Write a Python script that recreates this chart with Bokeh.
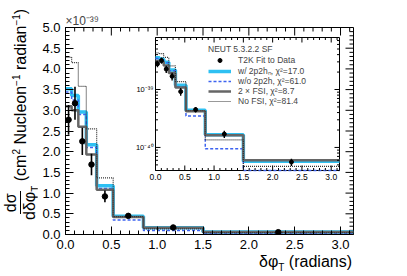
import numpy as np
from bokeh.plotting import figure
from bokeh.layouts import row, column
from bokeh.models import (Range1d, LinearScale, LogScale, FixedTicker, Div, Title,
                          PrintfTickFormatter, Legend, LegendItem)
from bokeh.embed import file_html
from bokeh.resources import INLINE
from bokeh.core.properties import value

PI = np.pi
# ---------------- data (cross sections in units of 1e-39 cm^2 / nucleon / radian)
bin_edges = [0.0, 0.067, 0.14, 0.227, 0.34, 0.52, 0.85, 1.5, PI]
data_y = [2.77, 3.17, 2.25, 1.69, 0.92, 0.45, 0.17, 0.056]
data_err = [0.36, 0.40, 0.33, 0.26, 0.14, 0.05, 0.025, 0.008]
w2p2h = [3.52, 3.36, 2.96, 2.17, 1.18, 0.44, 0.165, 0.058]
wo2p2h = [3.44, 3.25, 2.90, 2.10, 1.11, 0.35, 0.095, 0.030]
fsi2 = [3.10, 3.00, 2.60, 1.93, 1.08, 0.42, 0.162, 0.060]
nofsi = [4.28, 4.15, 3.58, 2.55, 1.37, 0.43, 0.135, 0.047]
unit = 1e-39

main_yticks = [0.0, 0.5, 1.0, 1.5, 2.0, 2.5, 3.0, 3.5, 4.0, 4.5, 5.0]
main_yminor = list(np.round(np.arange(0, 5.01, 0.1), 2))
main_xticks = [0.0, 0.5, 1.0, 1.5, 2.0, 2.5, 3.0]
main_xminor = list(np.round(np.arange(0, 3.15, 0.1), 2))
inset_xticks = [0.0, 0.5, 1.0, 1.5, 2.0, 2.5, 3.0]
inset_ydecades = [1e-41, 1e-40, 1e-39]
inset_ylabels = {1e-39: "10\u207b\u00b3\u2079", 1e-40: "10\u207b\u2074\u2070"}
inset_yrange = (4.0e-41, 7.9e-39)

legend_title = "NEUT 5.3.2.2 SF"
legend_labels = ["T2K Fit to Data", "w/ 2p2h\u2099, \u03c7\u00b2=17.0",
                 "w/o 2p2h, \u03c7\u00b2=61.0", "2 \u00d7 FSI, \u03c7\u00b2=8.7",
                 "No FSI, \u03c7\u00b2=81.4"]

# ---------------- styles
FONT = "Liberation Sans"
C_CYAN = "#2ec0f2"
C_BLUE = "#3d63f0"
C_GRAY = "#666666"
C_DOT = "#333333"

FRAME_W, FRAME_H = 288, 207
YDIV_W = 37
BL, BT, BR, BB = 28, 27, 40, 20
FIG_W = BL + FRAME_W + BR
FIG_H = BT + FRAME_H + BB

p = figure(width=FIG_W, height=FIG_H,
           x_range=Range1d(0, PI), y_range=Range1d(0, 5.0),
           output_backend="svg", toolbar_location=None,
           min_border_left=BL, min_border_right=BR, min_border_top=BT, min_border_bottom=BB)
p.outline_line_color = "black"
p.outline_line_width = 1
p.xgrid.visible = False
p.ygrid.visible = False
p.background_fill_color = "white"
p.border_fill_color = "white"

for ax, ticks, minor in ((p.xaxis[0], main_xticks, main_xminor),
                         (p.yaxis[0], main_yticks, main_yminor)):
    ax.ticker = FixedTicker(ticks=ticks, minor_ticks=minor)
    ax.major_tick_in = 8
    ax.major_tick_out = 0
    ax.minor_tick_in = 4
    ax.minor_tick_out = 0
    ax.axis_line_color = "black"
    ax.major_tick_line_color = "black"
    ax.minor_tick_line_color = "black"
    ax.formatter = PrintfTickFormatter(format="%.1f")
    ax.major_label_text_font = FONT
    ax.major_label_text_font_size = "13px"
    ax.major_label_text_color = "black"
    ax.major_label_standoff = 5

p.add_layout(Title(text="\u00d710\u207b\u00b3\u2079", align="left", text_font=FONT,
                   text_font_size="12px", text_font_style="normal", standoff=0), "above")

# mirror ticks on the top and right edges of the frame
xpu = PI / FRAME_W   # data units per pixel
ypu = 5.0 / FRAME_H
tx0, ty0, tx1, ty1 = [], [], [], []
for xv in main_xminor:
    ln = 8 if xv in main_xticks else 4
    tx0.append(xv); tx1.append(xv); ty0.append(5.0); ty1.append(5.0 - ln * ypu)
for yv in main_yminor:
    ln = 8 if yv in main_yticks else 4
    tx0.append(PI); tx1.append(PI - ln * xpu); ty0.append(yv); ty1.append(yv)
p.segment(tx0, ty0, tx1, ty1, line_color="black", line_width=1)

# ---------------- main histograms
edges = np.array(bin_edges)
centers = 0.5 * (edges[:-1] + edges[1:])


def steps(vals):
    v = np.asarray(vals, dtype=float)
    return np.append(v, v[-1])


p.step(edges, steps(w2p2h), mode="after", line_color=C_CYAN, line_width=3.5)
p.step(edges, steps(wo2p2h), mode="after", line_color=C_BLUE, line_width=1.5, line_dash="3 2")
p.step(edges, steps(fsi2), mode="after", line_color=C_GRAY, line_width=2.5)
p.step(edges, steps(nofsi), mode="after", line_color=C_DOT, line_width=1.2, line_dash="1 1")
dy = np.array(data_y)
de = np.array(data_err)
p.segment(centers, dy - de, centers, dy + de, line_color="black", line_width=1.6)
p.scatter(centers, dy, size=5.5, color="black")

# ---------------- inset (extra ranges mapped onto a sub-rectangle of the frame)
in_left, in_right = 90, 274      # px from frame left
in_bottom, in_top = 64, 197      # px from frame bottom
in_w, in_h = in_right - in_left, in_top - in_bottom
xppu = in_w / PI
ylo, yhi = inset_yrange
lpp = (np.log10(yhi) - np.log10(ylo)) / in_h
p.extra_x_ranges = {"ix": Range1d(0 - in_left / xppu, PI + (FRAME_W - in_right) / xppu)}
p.extra_x_scales = {"ix": LinearScale()}
p.extra_y_ranges = {"iy": Range1d(10 ** (np.log10(ylo) - in_bottom * lpp),
                                  10 ** (np.log10(yhi) + (FRAME_H - in_top) * lpp))}
p.extra_y_scales = {"iy": LogScale()}
R = dict(x_range_name="ix", y_range_name="iy")


def ypx(v, px):
    return v * 10 ** (px * lpp)


def xpx(v, px):
    return v + px / xppu


p.quad(left=[0], right=[PI], bottom=[ylo], top=[yhi], fill_color="white",
       line_color="black", line_width=1, **R)


def isteps(vals):
    return np.clip(steps(vals) * unit, ylo, yhi)


r_cyan = p.step(edges, isteps(w2p2h), mode="after", line_color=C_CYAN, line_width=3.5, **R)
r_blue = p.step(edges, isteps(wo2p2h), mode="after", line_color=C_BLUE, line_width=1.5,
                line_dash="3 2", **R)
r_gray = p.step(edges, isteps(fsi2), mode="after", line_color=C_GRAY, line_width=2.5, **R)
r_dot = p.step(edges, isteps(nofsi), mode="after", line_color=C_DOT, line_width=1.2,
               line_dash="1 1", **R)
p.segment(centers, (dy - de) * unit, centers, (dy + de) * unit, line_color="black",
          line_width=1.4, **R)
r_data = p.scatter(centers, dy * unit, size=4, color="black", **R)

# inset ticks
MAJ, MIN = 5, 2.5
ixmin = list(np.round(np.arange(0, 3.15, 0.1), 2))
x0s, y0s, x1s, y1s = [], [], [], []
for xv in ixmin:
    ln = MAJ if any(abs(xv - t) < 1e-6 for t in inset_xticks) else MIN
    x0s += [xv, xv]; x1s += [xv, xv]
    y0s += [ylo, yhi]; y1s += [ypx(ylo, ln), ypx(yhi, -ln)]
for d in inset_ydecades:
    for m in range(1, 10):
        yv = d * m
        if yv < ylo or yv > yhi:
            continue
        ln = MAJ if m == 1 else MIN
        x0s += [0, PI]; x1s += [xpx(0, ln), xpx(PI, -ln)]
        y0s += [yv, yv]; y1s += [yv, yv]
p.segment(x0s, y0s, x1s, y1s, line_color="black", line_width=1, **R)

p.text(x=inset_xticks, y=[ypx(ylo, -3)] * len(inset_xticks),
       text=["%.1f" % t for t in inset_xticks], text_font=value(FONT),
       text_font_size="8.5px", text_align="center", text_baseline="top",
       text_color="black", **R)
ykeys = sorted(inset_ylabels)
p.text(x=[xpx(0, -2)] * len(ykeys), y=ykeys, text=[inset_ylabels[k] for k in ykeys],
       text_font=value(FONT), text_font_size="7.5px", text_align="right",
       text_baseline="middle", text_color="black", **R)

legend = Legend(items=[LegendItem(label=legend_labels[0], renderers=[r_data]),
                       LegendItem(label=legend_labels[1], renderers=[r_cyan]),
                       LegendItem(label=legend_labels[2], renderers=[r_blue]),
                       LegendItem(label=legend_labels[3], renderers=[r_gray]),
                       LegendItem(label=legend_labels[4], renderers=[r_dot])],
                location=(143, 128), title=legend_title)
legend.title_text_font = FONT
legend.title_text_font_size = "8.5px"
legend.title_text_font_style = "normal"
legend.title_standoff = 1
legend.label_text_font = FONT
legend.label_text_font_size = "8.5px"
legend.label_height = 10
legend.glyph_height = 10
legend.glyph_width = 23
legend.label_standoff = 7
legend.spacing = 0
legend.padding = 0
legend.margin = 0
legend.border_line_color = None
legend.background_fill_alpha = 0
p.add_layout(legend, "center")

# ---------------- axis titles (HTML text beside the figure)
SUP = "font-size:10px; position:relative; top:-6px;"
SUB = "font-size:10px; position:relative; top:4px;"
TXT = "font-family:'Liberation Sans',Arial,sans-serif; font-size:16px; color:black; line-height:16px;"
frac = ('<span style="display:inline-flex; flex-direction:column; align-items:center; '
        'vertical-align:middle; line-height:16px;">'
        '<span style="border-bottom:1px solid black; padding:0 2px 1px 2px;">d\u03c3</span>'
        '<span style="padding-top:1px;">d\u03b4\u03c6<span style="%s">T</span></span></span>' % SUB)
ytitle = (frac + ' (cm<span style="%s">2</span> Nucleon<span style="%s">\u22121</span> '
          'radian<span style="%s">\u22121</span>)' % (SUP, SUP, SUP))
ydiv = Div(width=YDIV_W, height=FIG_H, margin=0,
           text=('<div style="position:relative; width:%dpx; height:%dpx;">'
                 '<div style="position:absolute; left:3px; top:220px; transform-origin:0 0; '
                 'transform:rotate(-90deg); white-space:nowrap; %s">%s</div></div>'
                 % (YDIV_W, FIG_H, TXT, ytitle)))
TOTAL_W = YDIV_W + FIG_W
xtitle = '\u03b4\u03c6<span style="%s">T</span> (radians)' % SUB
xdiv = Div(width=TOTAL_W, height=20, margin=0,
           text=('<div style="position:relative; width:%dpx; height:20px;">'
                 '<div style="position:absolute; right:%dpx; top:0px; white-space:nowrap; %s">%s</div></div>'
                 % (TOTAL_W, TOTAL_W - 352, TXT, xtitle)))

layout = column(row(ydiv, p, spacing=0), xdiv, spacing=0)
open("out.html", "w").write(file_html(layout, INLINE))
